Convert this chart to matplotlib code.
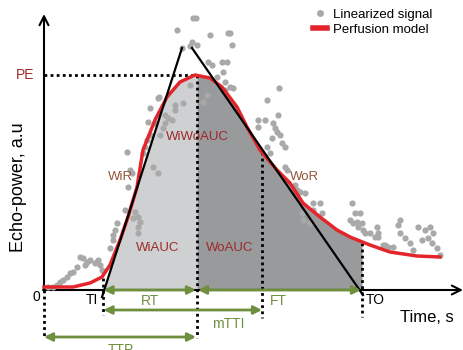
import numpy as np
import matplotlib.pyplot as plt
from matplotlib.lines import Line2D

# Schematic time-intensity curve, in "time" and "echo-power" units
# measured from the origin of the drawn axes.
TI = 58.5      # time of appearance
TTP = 153      # time to peak
MTTI = 218     # mean transit time end
TO = 318       # time of wash-out end
PE = 215       # peak enhancement

# Linearized signal (scatter)
sig_t = [84, 81, 91, 94, 96, 94, 94, 73, 71, 69, 54, 51, 46, 43, 39, 36, 33, 29, 26, 23,
         19, 16, 13, 9, 4, 41, 56, 58, 66, 69, 89, 53,
         138, 146, 153, 115, 106, 104, 121, 124, 128, 139, 131, 111, 119, 116, 106, 103,
         101, 99, 83, 109, 114, 86, 88,
         149, 152, 133, 166, 184, 188, 148, 164, 168, 178, 183, 179, 173, 181, 186, 181,
         114, 131, 121, 223, 214, 221, 146, 163, 159,
         186, 189, 235, 234, 214, 229, 231, 233, 236, 228, 238, 241, 223, 226, 241,
         243, 251, 256, 261, 269, 276, 269, 278, 306, 309, 314, 326, 333, 334,
         246, 253, 258, 259, 266,
         308, 311, 316, 313, 318, 319, 356, 354, 334, 339, 344, 349, 356, 361, 366,
         369, 374, 381, 386, 378, 384, 389, 388, 393, 396, 321, 331, 341]
sig_p = [103, 80, 78, 73, 68, 63, 57, 67, 60, 55, 30, 27, 30, 28, 32, 33, 23, 18, 17, 13,
         10, 8, 5, 3, 3, 25, 25, 20, 42, 50, 72, 28,
         242, 244, 245, 193, 182, 168, 175, 172, 170, 187, 180, 167, 162, 155, 155, 150,
         143, 137, 138, 123, 117, 120, 117,
         272, 272, 260, 255, 257, 245, 248, 228, 225, 228, 228, 218, 213, 208, 203, 200,
         192, 185, 167, 190, 170, 170, 205, 195, 188,
         257, 202, 202, 175, 163, 167, 162, 158, 155, 152, 147, 143, 143, 137, 123,
         120, 105, 98, 97, 87, 87, 80, 77, 70, 67, 63, 57, 63, 57,
         103, 100, 77, 70, 67,
         87, 77, 77, 68, 67, 60, 70, 65, 53, 45, 43, 43, 57, 52, 47,
         40, 63, 60, 63, 50, 52, 57, 47, 42, 35, 57, 53, 45]

# Perfusion model curve
model_t = [0, 29, 46, 58, 66, 76, 84, 93, 99, 111, 123, 136, 151, 166, 178, 193, 203,
           216, 233, 246, 259, 276, 293, 306, 326, 346, 373, 396]
model_p = [3, 3, 7, 13, 25, 50, 73, 103, 140, 170, 193, 208, 215, 212, 203, 183, 163,
           140, 120, 107, 87, 73, 60, 53, 45, 38, 34, 33]

# Wash-in and wash-out tangent lines
wi_t, wi_p = [58, 138], [-7, 242]
wo_t, wo_p = [148, 319], [242, -5]

red = '#e3262b'
dark_red = '#9e2a2b'
brown = '#95573a'
green = '#6e8f3e'
dot_gray = '#a9a9a9'

plt.rcParams['font.family'] = ['Liberation Sans', 'DejaVu Sans']

fig = plt.figure(figsize=(4.63, 3.5), dpi=100)
ax = fig.add_axes([0, 0, 1, 1])
ax.set_xlim(-44, 419)
ax.set_ylim(-60, 290)
ax.axis('off')

# Shaded areas under the curve
g1 = np.linspace(TI, TTP, 200)
top1 = np.minimum(np.interp(g1, model_t, model_p), np.interp(g1, wi_t, wi_p))
ax.fill_between(g1, 0, np.clip(top1, 0, None), color='#cfd0d1', lw=0, zorder=1)
g2 = np.linspace(TTP, TO, 200)
ax.fill_between(g2, 0, np.interp(g2, model_t, model_p), color='#999a9c', lw=0, zorder=1)

# Axes with arrows
ax.annotate('', xy=(0, 276), xytext=(0, -1),
            arrowprops=dict(arrowstyle='->', lw=1.5, color='black', mutation_scale=16,
                            shrinkA=0, shrinkB=0), zorder=2)
ax.annotate('', xy=(419, 0), xytext=(-1, 0),
            arrowprops=dict(arrowstyle='->', lw=1.5, color='black', mutation_scale=16,
                            shrinkA=0, shrinkB=0), zorder=2)

# Dotted guide lines
dot = dict(color='black', ls=(0, (1, 1.2)), lw=2, zorder=3)
ax.plot([0, TTP], [PE, PE], **dot)
ax.plot([TTP, TTP], [PE, -48], **dot)
ax.plot([0, 0], [0, -48], **dot)
ax.plot([TI, TI], [18, -25], **dot)
ax.plot([MTTI, MTTI], [138, -28], **dot)
ax.plot([TO, TO], [47, -27], **dot)

# Scatter and model
ax.scatter(sig_t, sig_p, s=20, color=dot_gray, lw=0, zorder=4)
ax.plot(model_t, model_p, color=red, lw=2.5, zorder=5)
ax.plot(wi_t, wi_p, color='black', lw=1.6, zorder=6)
ax.plot(wo_t, wo_p, color='black', lw=1.6, zorder=6)

# Green time intervals
def span(a, b, y):
    ax.annotate('', xy=(a, y), xytext=(b, y),
                arrowprops=dict(arrowstyle='<|-|>', color=green, lw=2, mutation_scale=12,
                                shrinkA=0, shrinkB=0), zorder=7)

span(TI + 1, TTP - 1, 0)
span(TTP + 1, TO - 1, 0)
span(TI + 1, MTTI, -20)
span(0, TTP - 1, -47)

# Labels
ax.text(-19, 215, 'PE', color=dark_red, fontsize=10, ha='center', va='center')
ax.text(153, 153, 'WiWoAUC', color=dark_red, fontsize=9.5, ha='center', va='center', zorder=8)
ax.text(76, 113, 'WiR', color=brown, fontsize=9.5, ha='center', va='center', zorder=8)
ax.text(260, 113, 'WoR', color=brown, fontsize=9.5, ha='center', va='center', zorder=8)
ax.text(114, 42, 'WiAUC', color=dark_red, fontsize=9.5, ha='center', va='center', zorder=8)
ax.text(186, 42, 'WoAUC', color=dark_red, fontsize=9.5, ha='center', va='center', zorder=8)
ax.text(106, -11, 'RT', color=green, fontsize=10, ha='center', va='center')
ax.text(234, -11, 'FT', color=green, fontsize=10, ha='center', va='center')
ax.text(184, -34, 'mTTI', color=green, fontsize=10, ha='center', va='center')
ax.text(77, -53, 'TTP', color=green, fontsize=10, ha='center', va='top')
ax.text(54, -10, 'TI', color='black', fontsize=10, ha='right', va='center')
ax.text(322, -10, 'TO', color='black', fontsize=10, ha='left', va='center')
ax.text(-8, -7, '0', color='black', fontsize=10, ha='center', va='center')
ax.text(383, -28, 'Time, s', color='black', fontsize=12, ha='center', va='center')
ax.text(-25, 103, 'Echo-power, a.u', color='black', fontsize=13, rotation=90,
        ha='center', va='center')

handles = [Line2D([], [], ls='', marker='o', ms=5, color=dot_gray, mec='none'),
           Line2D([], [], color=red, lw=4)]
ax.legend(handles, ['Linearized signal', 'Perfusion model'], frameon=False,
          loc='upper left', bbox_to_anchor=(0.677, 0.975), borderaxespad=0, borderpad=0,
          handlelength=1.0, handletextpad=0.5, labelspacing=0.2, fontsize=9.5)

fig.savefig('out.png', dpi=100)
